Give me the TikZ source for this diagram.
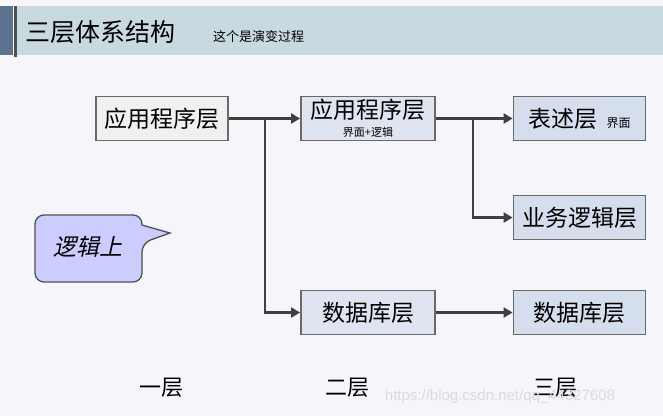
\documentclass[tikz,border=0pt]{standalone}
\usepackage{fontspec}
\setmainfont{Noto Sans CJK SC}
\newfontfamily\cjkit[FakeSlant=0.22]{Noto Sans CJK SC}
\newfontfamily\wmfont{Liberation Sans}
\usetikzlibrary{arrows.meta}
\definecolor{bgc}{RGB}{245,245,250}
\definecolor{bandc}{RGB}{201,217,224}
\definecolor{blockc}{RGB}{92,114,142}
\definecolor{vlinec}{RGB}{80,80,80}
\definecolor{boxline}{RGB}{105,105,105}
\definecolor{fillA}{RGB}{240,240,240}
\definecolor{fillB}{RGB}{222,228,240}
\definecolor{fillC}{RGB}{212,222,236}
\definecolor{connc}{RGB}{64,64,64}
\definecolor{callc}{RGB}{204,204,255}
\definecolor{wmc}{RGB}{218,218,226}
\tikzset{
  layerbox/.style={draw=boxline, line width=1.8pt, minimum width=132pt, minimum height=44pt, inner sep=0pt},
  bigtext/.style={font=\fontsize{23}{23}\selectfont, text=black},
  conn/.style={draw=connc, line width=2.6pt, -{Triangle[length=9pt,width=10pt]}},
  plainconn/.style={draw=connc, line width=2.6pt},
}
\begin{document}
\begin{tikzpicture}[x=1pt,y=-1pt]
\useasboundingbox (0,0) rectangle (663,416);
\fill[bgc] (0,0) rectangle (663,416);
% header
\fill[blockc] (0,6) rectangle (13,55);
\fill[bandc] (17,6) rectangle (663,55);
\fill[vlinec] (13.5,6) rectangle (16.5,57);
\node[anchor=west, inner sep=0pt, font=\fontsize{25}{25}\selectfont] (title) at (25,32) {三层体系结构};
\node[anchor=west, inner sep=0pt, font=\fontsize{13}{13}\selectfont] (subtitle) at (213,37) {这个是演变过程};
% boxes
\node[layerbox, fill=fillA, bigtext] (A) at (162,118.5) {应用程序层};
\node[layerbox, fill=fillB, minimum width=134pt] (B) at (368,118.5) {};
\node[bigtext, inner sep=0pt] (Bt) at (368,110) {应用程序层};
\node[inner sep=0pt, font=\fontsize{11}{11}\selectfont] (Bs) at (368,132.5) {界面+逻辑};
\node[layerbox, fill=fillC] (C) at (579.5,118.5) {\fontsize{23}{23}\selectfont 表述层\hspace{9pt}\fontsize{12}{12}\selectfont 界面};
\node[layerbox, fill=fillC, bigtext] (D) at (579.5,217.5) {业务逻辑层};
\node[layerbox, fill=fillB, minimum width=134pt, bigtext] (E) at (368,312.5) {数据库层};
\node[layerbox, fill=fillC, bigtext] (F) at (579.5,312.5) {数据库层};
% connectors
\coordinate (j1) at (265,118.5);
\coordinate (j2) at (473,118.5);
\draw[conn] (A.east) -- (B.west);
\draw[conn] (j1) |- (E.west);
\draw[conn] (B.east) -- (C.west);
\draw[conn] (j2) |- (D.west);
\draw[conn] (E.east) -- (F.west);
% callout
\draw[fill=callc, draw=vlinec, line width=1.3pt] (142,225) [rounded corners=9pt] -- (142,215) -- (35,215) -- (35,282) -- (142,282) -- (142,243) [sharp corners] -- (170,233) -- cycle;
\node[inner sep=0pt, font=\cjkit\fontsize{23}{23}\selectfont] (logic) at (88,247) {逻辑上};
% bottom labels
\node[inner sep=0pt, font=\fontsize{22}{22}\selectfont] (L1) at (161,388) {一层};
\node[inner sep=0pt, font=\fontsize{22}{22}\selectfont] (L2) at (347,388) {二层};
\node[inner sep=0pt, font=\fontsize{22}{22}\selectfont] (L3) at (555,388) {三层};
% watermark
\node[inner sep=0pt, text=wmc, font=\wmfont\fontsize{15}{15}\selectfont] (wm) at (500,397) {https://blog.csdn.net/qq\_44327608};
\end{tikzpicture}
\end{document}
